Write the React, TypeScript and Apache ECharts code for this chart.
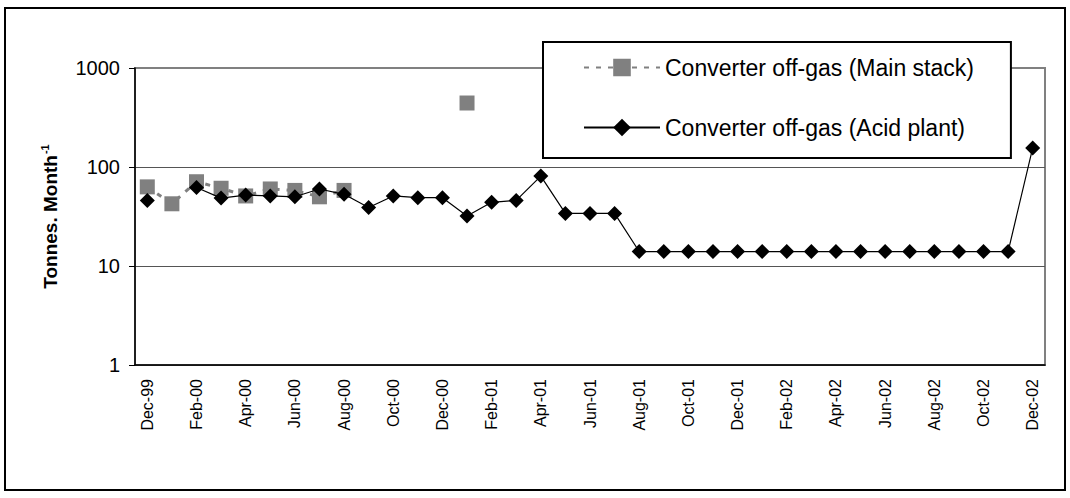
import React, { useEffect, useRef } from "react";
import * as echarts from "echarts";

const months = [
  "Dec-99", "Jan-00", "Feb-00", "Mar-00", "Apr-00", "May-00", "Jun-00", "Jul-00", "Aug-00", "Sep-00", "Oct-00", "Nov-00",
  "Dec-00", "Jan-01", "Feb-01", "Mar-01", "Apr-01", "May-01", "Jun-01", "Jul-01", "Aug-01", "Sep-01", "Oct-01", "Nov-01",
  "Dec-01", "Jan-02", "Feb-02", "Mar-02", "Apr-02", "May-02", "Jun-02", "Jul-02", "Aug-02", "Sep-02", "Oct-02", "Nov-02",
  "Dec-02",
];

const mainStack: (number | null)[] = [
  63, 42.5, 71, 61, 51, 60, 58, 50, 58, null, null, null,
  null, 443, null, null, null, null, null, null, null, null, null, null,
  null, null, null, null, null, null, null, null, null, null, null, null,
  null,
];

const acidPlant: (number | null)[] = [
  46, null, 62, 48.5, 52, 51, 50, 60, 53, 39, 51, 49,
  49, 32, 44, 46, 81, 34, 34, 34, 14, 14, 14, 14,
  14, 14, 14, 14, 14, 14, 14, 14, 14, 14, 14, 14,
  156,
];

const seriesNames = ["Converter off-gas (Main stack)", "Converter off-gas (Acid plant)"];
const yAxisTitle = "Tonnes. Month";
const FONT = "'Liberation Sans', Arial, sans-serif";

export default function App() {
  const ref = useRef<HTMLDivElement>(null);
  useEffect(() => {
    if (!ref.current) return;
    const chart = echarts.init(ref.current, undefined, { renderer: "svg" });
    chart.setOption({
      animation: false,
      backgroundColor: "#fff",
      textStyle: { fontFamily: FONT },
      graphic: [
        {
          type: "rect",
          shape: { x: 5, y: 8, width: 1060, height: 482 },
          style: { fill: "none", stroke: "#000", lineWidth: 2 },
          silent: true,
          z: 100,
        },
      ],
      grid: {
        left: 135,
        right: 25,
        top: 68,
        bottom: 133,
        show: true,
        borderColor: "#808080",
        borderWidth: 2,
        backgroundColor: "#fff",
      },
      legend: {
        orient: "vertical",
        left: 543,
        top: 42,
        data: seriesNames,
        padding: [14, 37, 19, 40],
        itemGap: 37,
        itemWidth: 76,
        itemHeight: 22,
        backgroundColor: "#fff",
        borderColor: "#000",
        borderWidth: 2,
        borderRadius: 0,
        textStyle: { fontSize: 23, color: "#000", fontFamily: FONT },
        selectedMode: false,
      },
      xAxis: {
        type: "category",
        data: months,
        boundaryGap: true,
        axisLine: { lineStyle: { color: "#000", width: 1.5 } },
        axisTick: { interval: 0, length: 6, lineStyle: { color: "#000" } },
        axisLabel: {
          interval: 1,
          rotate: 90,
          fontSize: 16,
          color: "#000",
          margin: 14,
          fontFamily: FONT,
        },
        splitLine: { show: false },
      },
      yAxis: {
        type: "log",
        logBase: 10,
        min: 1,
        max: 1000,
        name: `{a|${yAxisTitle}}{b|-1}`,
        nameLocation: "middle",
        nameRotate: 90,
        nameGap: 74,
        nameTextStyle: {
          rich: {
            a: { fontSize: 19, fontWeight: "bold", color: "#000", fontFamily: FONT, lineHeight: 22 },
            b: { fontSize: 11, fontWeight: "bold", color: "#000", fontFamily: FONT, verticalAlign: "top", lineHeight: 22, padding: [0, 0, 8, 1] },
          },
        },
        axisLine: { show: true, lineStyle: { color: "#000", width: 1.5 } },
        axisTick: { show: true, length: 6, lineStyle: { color: "#000" } },
        axisLabel: {
          fontSize: 20,
          color: "#000",
          margin: 15,
          fontFamily: FONT,
          formatter: (v: number) => String(Math.round(v)),
        },
        splitLine: { show: true, lineStyle: { color: ["#555", "#555", "#555", "#808080"], width: 1 } },
      },
      series: [
        {
          name: seriesNames[0],
          type: "line",
          data: mainStack,
          connectNulls: false,
          symbol: "rect",
          symbolSize: 15,
          itemStyle: { color: "#808080" },
          lineStyle: { color: "#808080", width: 3, type: [5, 7] },
          z: 2,
        },
        {
          name: seriesNames[1],
          type: "line",
          data: acidPlant,
          connectNulls: false,
          symbol: "diamond",
          symbolSize: 15,
          itemStyle: { color: "#000" },
          lineStyle: { color: "#000", width: 1.2 },
          z: 3,
        },
      ],
    });
    return () => chart.dispose();
  }, []);
  return (
    <div
      ref={ref}
      style={{ position: "fixed", left: 0, top: 0, width: 1070, height: 498 }}
    />
  );
}
